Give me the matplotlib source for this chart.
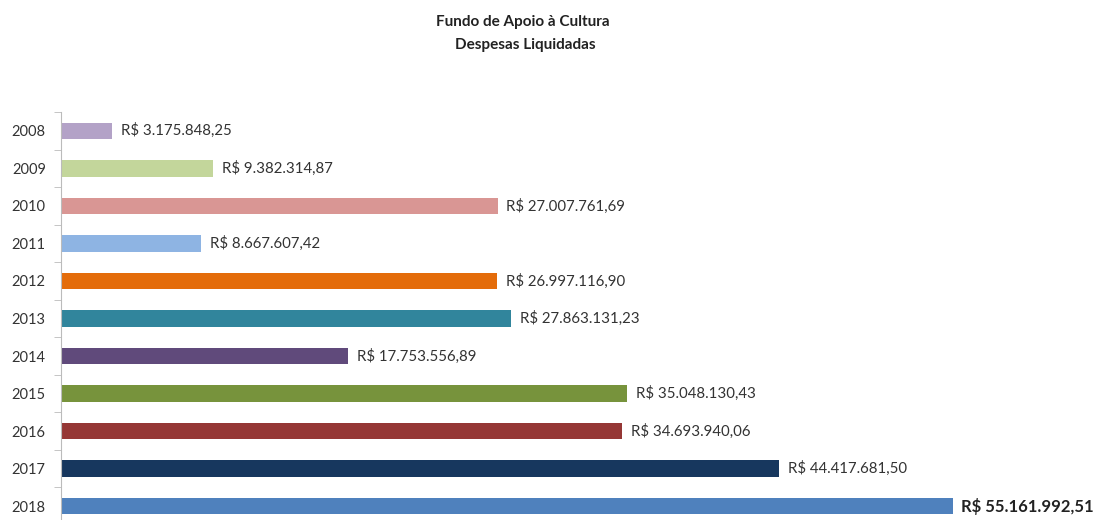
import matplotlib
matplotlib.use('Agg')
import matplotlib.pyplot as plt
from matplotlib.ticker import FixedLocator

# data
years = ['2008', '2009', '2010', '2011', '2012', '2013', '2014', '2015', '2016', '2017', '2018']
values = [3175848.25, 9382314.87, 27007761.69, 8667607.42, 26997116.90, 27863131.23,
          17753556.89, 35048130.43, 34693940.06, 44417681.50, 55161992.51]
labels = ['R$ 3.175.848,25', 'R$ 9.382.314,87', 'R$ 27.007.761,69', 'R$ 8.667.607,42',
          'R$ 26.997.116,90', 'R$ 27.863.131,23', 'R$ 17.753.556,89', 'R$ 35.048.130,43',
          'R$ 34.693.940,06', 'R$ 44.417.681,50', 'R$ 55.161.992,51']
colors = ['#B3A2C7', '#C3D69B', '#D99694', '#8EB4E3', '#E46C0A', '#31859C',
          '#604A7B', '#77933C', '#953735', '#17375E', '#4F81BD']

plt.rcParams['font.family'] = ['Lato', 'DejaVu Sans']

fig = plt.figure(figsize=(10.97, 5.2), dpi=100)
fig.patch.set_facecolor('white')
# axes placed in pixel terms (left edge at x=61, rows from y=112 down past bottom)
ax = fig.add_axes([61 / 1097, -5 / 520, 1036 / 1097, 413 / 520])

pos = list(range(len(years)))
ax.barh(pos, values, height=0.44, color=colors)
ax.set_ylim(len(years) - 0.5, -0.5)
ax.set_xlim(0, 64.1e6)

for i, (v, lab) in enumerate(zip(values, labels)):
    if i == len(values) - 1:
        ax.text(v + 0.5e6, i, lab, va='center', ha='left', fontsize=12,
                fontweight='bold', color='#222222')
    else:
        ax.text(v + 0.55e6, i, lab, va='center', ha='left', fontsize=10.8, color='#333333')

ax.set_yticks(pos)
ax.set_yticklabels(years, fontsize=10.5, color='#333333')
ax.tick_params(axis='y', which='major', length=0, pad=11)
ax.yaxis.set_minor_locator(FixedLocator([p - 0.5 for p in pos] + [len(pos) - 0.5]))
ax.tick_params(axis='y', which='minor', length=5, color='#BBBBBB', direction='out')
ax.set_xticks([])

for s in ['top', 'right', 'bottom']:
    ax.spines[s].set_visible(False)
ax.spines['left'].set_color('#BBBBBB')

fig.text(523 / 1097, 1 - 22 / 520, 'Fundo de Apoio à Cultura', ha='center', va='center',
         fontsize=11, fontweight='bold', color='#222222')
fig.text(525 / 1097, 1 - 45 / 520, 'Despesas Liquidadas', ha='center', va='center',
         fontsize=11, fontweight='bold', color='#222222')

fig.savefig('out.png', dpi=100)
